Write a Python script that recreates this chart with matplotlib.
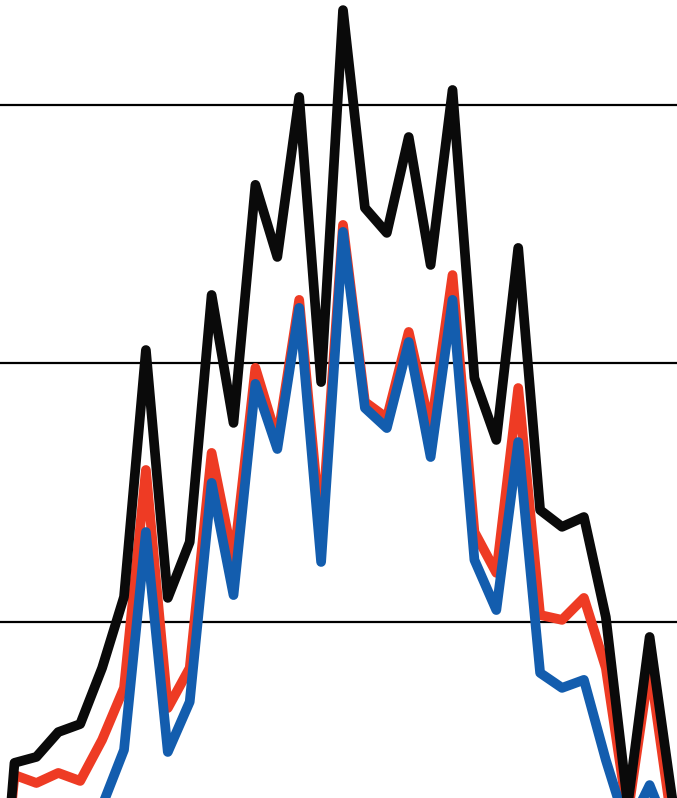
import matplotlib.pyplot as plt
import numpy as np

# Données (unités arbitraires)
idx = np.arange(-1, 32)

black_vals = [-5.8, 4.55, 4.78, 5.74, 6.05, 8.22, 10.97, 20.52, 10.93, 13.09, 22.65,
              17.70, 26.91, 24.12, 30.31, 19.28, 33.67, 26.02, 25.05, 28.76, 23.81,
              30.58, 19.44, 17.04, 24.47, 14.33, 13.68, 14.06, 10.19, 2.92, 9.42, 3.35, -2.0]
red_vals = [-4.6, 4.08, 3.77, 4.16, 3.85, 5.44, 7.45, 15.88, 6.67, 8.22, 16.54,
            12.32, 19.83, 17.04, 22.46, 13.37, 25.36, 18.51, 17.89, 21.22, 17.43,
            23.42, 13.48, 11.90, 19.05, 10.27, 10.08, 10.93, 8.22, 2.53, 8.34, 2.34, -2.0]
blue_vals = [-6.0, 1.5, 1.8, 2.0, 2.3, 2.88, 5.05, 13.48, 4.97, 6.91, 15.38,
             11.04, 19.21, 16.69, 22.15, 12.32, 25.09, 18.28, 17.50, 20.83, 16.38,
             22.46, 12.40, 10.46, 16.96, 8.03, 7.45, 7.76, 4.66, 1.95, 3.69, 1.57, -2.0]

grid_levels = [10, 20, 30]

fig = plt.figure(figsize=(6.77, 7.98), dpi=100)
ax = fig.add_axes([0, 0, 1, 1])

for y in grid_levels:
    ax.axhline(y, color='black', linewidth=1.6, zorder=1)

ax.plot(idx, red_vals, color='#EE3B24', linewidth=7, zorder=2)
ax.plot(idx, blue_vals, color='#135DAE', linewidth=7, zorder=3)
ax.plot(idx, black_vals, color='#0a0a0a', linewidth=7, zorder=4)

ax.set_xlim(-0.662, 30.25)
ax.set_ylim(3.19, 34.06)
ax.axis('off')

fig.savefig('out.png', dpi=100, facecolor='white')
